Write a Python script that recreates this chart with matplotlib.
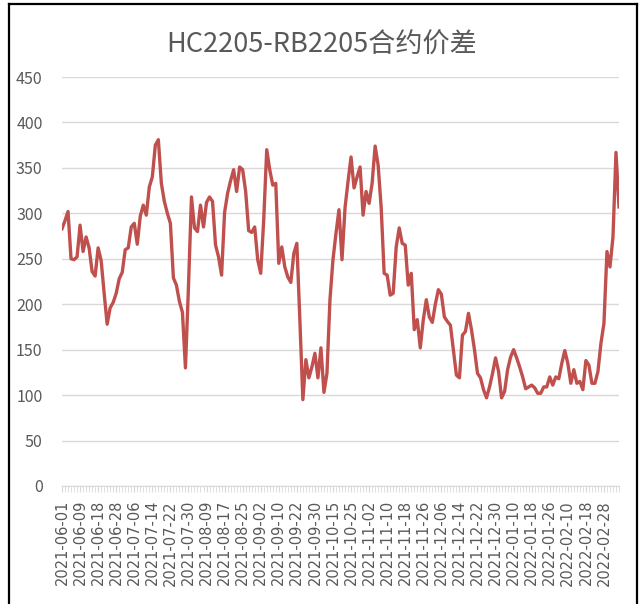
import matplotlib
matplotlib.use("Agg")
import matplotlib.pyplot as plt
from matplotlib.lines import Line2D

plt.rcParams['font.family'] = ['Noto Sans CJK SC', 'DejaVu Sans']

# spread values, one per trading day
spread = [
    283, 292, 302, 250, 249, 252, 287, 258, 274, 262,
    236, 231, 262, 248, 212, 178, 196, 202, 212, 228,
    235, 260, 262, 285, 289, 266, 297, 309, 298, 329,
    340, 375, 381, 333, 313, 300, 289, 229, 221, 203,
    191, 130, 219, 318, 284, 280, 309, 285, 312, 318,
    313, 265, 252, 232, 301, 322, 336, 348, 324, 351,
    348, 324, 281, 279, 285, 249, 234, 293, 370, 348,
    331, 333, 245, 263, 241, 230, 224, 256, 267, 183,
    95, 139, 119, 131, 146, 119, 152, 103, 124, 205,
    249, 278, 304, 249, 306, 335, 362, 328, 340, 351,
    298, 324, 311, 333, 374, 353, 307, 234, 232, 210,
    212, 263, 284, 267, 265, 221, 234, 172, 183, 152,
    183, 205, 186, 180, 200, 216, 211, 186, 181, 177,
    150, 122, 119, 166, 170, 190, 172, 150, 124, 119,
    106, 97, 109, 124, 141, 126, 97, 104, 128, 142,
    150, 141, 131, 120, 107, 109, 111, 108, 102, 102,
    109, 109, 120, 111, 120, 118, 135, 149, 135, 113,
    128, 113, 115, 106, 138, 133, 113, 113, 126, 157,
    179, 258, 241, 274, 367, 307,
]

# every 6th trading day is labelled
tick_labels = [
    "2021-06-01", "2021-06-09", "2021-06-18", "2021-06-28", "2021-07-06",
    "2021-07-14", "2021-07-22", "2021-07-30", "2021-08-09", "2021-08-17",
    "2021-08-25", "2021-09-02", "2021-09-10", "2021-09-22", "2021-09-30",
    "2021-10-15", "2021-10-25", "2021-11-02", "2021-11-10", "2021-11-18",
    "2021-11-26", "2021-12-06", "2021-12-14", "2021-12-22", "2021-12-30",
    "2022-01-10", "2022-01-18", "2022-01-26", "2022-02-10", "2022-02-18",
    "2022-02-28",
]
label_step = 6
y_ticks = [0, 50, 100, 150, 200, 250, 300, 350, 400, 450]

text_color = "#595959"
grid_color = "#D9D9D9"
line_color = "#C0504D"

W, H = 643, 604
fig = plt.figure(figsize=(W / 100, H / 100), dpi=100)
ax = fig.add_axes([62 / W, 1 - 486 / H, (619 - 62) / W, (486 - 77) / H])

x = list(range(len(spread)))
ax.plot(x, spread, color=line_color, linewidth=2.4, solid_joinstyle="round", zorder=3)

ax.set_xlim(0, len(spread) - 1)
ax.set_ylim(0, 450)
ax.set_yticks(y_ticks)
ax.set_yticklabels([str(v) for v in y_ticks], fontsize=11.5, color=text_color)
ax.grid(axis="y", color=grid_color, linewidth=1)
ax.set_axisbelow(True)

ax.set_xticks(range(0, label_step * len(tick_labels), label_step))
ax.set_xticklabels(tick_labels, rotation=90, fontsize=10.5, color=text_color,
                   family=["Liberation Sans Narrow", "DejaVu Sans"])
ax.set_xticks(x, minor=True)
ax.tick_params(axis="x", which="both", length=4, color=grid_color, pad=6)
ax.tick_params(axis="y", length=0, pad=14)

for side in ("top", "right", "left"):
    ax.spines[side].set_visible(False)
ax.spines["bottom"].set_color(grid_color)

fig.text(322 / W, 1 - 45 / H, "HC2205-RB2205合约价差", ha="center", va="center",
         fontsize=19.5, color=text_color)

# outer frame
fx0, fx1, fy1 = 9 / W, 637 / W, 1 - 4 / H
for xs, ys in [([fx0, fx0], [0, fy1]), ([fx0, fx1], [fy1, fy1]), ([fx1, fx1], [fy1, 0])]:
    fig.add_artist(Line2D(xs, ys, color="black", linewidth=1.6))

fig.savefig("out.png", dpi=100)
